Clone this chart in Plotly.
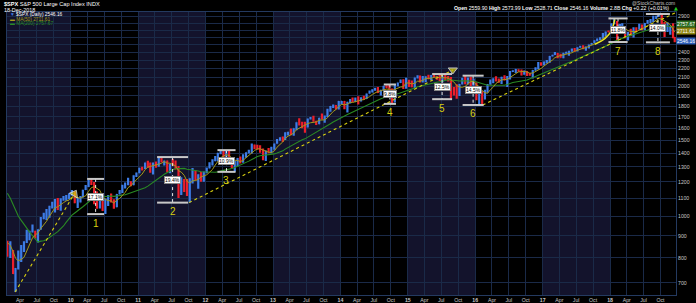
import numpy as np
import pandas as pd
import plotly.graph_objects as go

# ---------------- data (half-month bars, 2009 Jan(2nd half) .. 2018 Dec) ----------------
first_open = 850
close = [
 826, 827, 735, 756, 798, 852, 873, 883, 919, 924, 919, 932, 987, 1005, 1021, 1052, 1057, 1092, 1036, 1093, 1096, 1107, 1115,
 1136, 1074, 1075, 1104, 1150, 1169, 1211, 1187, 1136, 1089, 1115, 1031, 1096, 1102, 1079, 1049, 1125, 1141, 1176, 1183, 1199, 1181, 1242, 1258,
 1293, 1286, 1332, 1327, 1281, 1326, 1320, 1364, 1338, 1345, 1266, 1321, 1316, 1292, 1178, 1219, 1209, 1131, 1225, 1253, 1229, 1247, 1212, 1258,
 1289, 1312, 1343, 1366, 1402, 1408, 1370, 1398, 1330, 1310, 1330, 1362, 1357, 1379, 1405, 1407, 1465, 1441, 1441, 1412, 1353, 1416, 1413, 1426,
 1473, 1498, 1520, 1515, 1560, 1569, 1552, 1598, 1651, 1631, 1626, 1606, 1682, 1686, 1658, 1633, 1688, 1682, 1698, 1757, 1798, 1806, 1775, 1848,
 1848, 1783, 1838, 1859, 1841, 1872, 1843, 1884, 1871, 1924, 1937, 1960, 1973, 1931, 1955, 2003, 1985, 1972, 1862, 2018, 2040, 2068, 1990, 2059,
 2019, 1995, 2097, 2105, 2053, 2068, 2107, 2086, 2123, 2107, 2084, 2063, 2108, 2104, 2092, 1972, 1953, 1920, 2023, 2079, 2023, 2080, 2043, 2044,
 1880, 1940, 1864, 1932, 2016, 2060, 2082, 2065, 2047, 2097, 2072, 2099, 2162, 2174, 2190, 2171, 2126, 2168, 2133, 2126, 2180, 2199, 2253, 2239,
 2275, 2279, 2349, 2364, 2385, 2363, 2329, 2384, 2402, 2412, 2433, 2423, 2459, 2470, 2465, 2472, 2500, 2519, 2553, 2575, 2586, 2648, 2675, 2674,
 2786, 2824, 2699, 2714, 2748, 2641, 2657, 2648, 2711, 2705, 2780, 2718, 2798, 2816, 2818, 2902, 2905, 2914, 2768, 2712, 2730, 2760, 2600, 2546,
]
high = [
 877, 875, 835, 758, 832, 857, 875, 930, 925, 956, 925, 933, 996, 1018, 1039, 1057, 1080, 1096, 1101, 1100, 1113, 1119, 1130,
 1150, 1140, 1104, 1113, 1151, 1181, 1213, 1220, 1200, 1141, 1118, 1131, 1099, 1120, 1129, 1095, 1126, 1150, 1182, 1196, 1227, 1205, 1244, 1263,
 1294, 1302, 1332, 1344, 1332, 1331, 1339, 1366, 1371, 1346, 1346, 1323, 1356, 1345, 1307, 1230, 1219, 1220, 1225, 1293, 1277, 1250, 1267, 1269,
 1296, 1333, 1354, 1378, 1403, 1420, 1422, 1416, 1415, 1335, 1343, 1364, 1375, 1391, 1407, 1426, 1474, 1465, 1464, 1460, 1434, 1420, 1438, 1448,
 1474, 1510, 1524, 1530, 1564, 1570, 1597, 1598, 1651, 1687, 1655, 1654, 1684, 1698, 1710, 1664, 1690, 1730, 1711, 1775, 1799, 1814, 1809, 1849,
 1850, 1850, 1841, 1868, 1883, 1884, 1897, 1885, 1902, 1924, 1955, 1968, 1985, 1991, 1964, 2005, 2011, 2019, 1977, 2019, 2042, 2075, 2076, 2094,
 2072, 2064, 2097, 2120, 2117, 2114, 2111, 2126, 2124, 2135, 2109, 2127, 2111, 2132, 2112, 2102, 1993, 2021, 2024, 2094, 2116, 2097, 2104, 2081,
 2038, 1950, 1947, 1962, 2024, 2073, 2087, 2111, 2084, 2104, 2120, 2113, 2169, 2178, 2193, 2187, 2187, 2175, 2169, 2148, 2182, 2214, 2278, 2273,
 2283, 2301, 2352, 2368, 2401, 2390, 2379, 2392, 2405, 2417, 2446, 2453, 2463, 2484, 2490, 2472, 2500, 2520, 2557, 2582, 2598, 2657, 2680, 2695,
 2800, 2873, 2835, 2789, 2801, 2752, 2675, 2718, 2742, 2742, 2791, 2774, 2804, 2848, 2863, 2916, 2916, 2941, 2939, 2817, 2815, 2761, 2800, 2601,
]
low = [
 805, 800, 734, 667, 752, 783, 826, 866, 879, 916, 888, 869, 930, 983, 980, 992, 1041, 1020, 1033, 1029, 1085, 1085, 1095,
 1115, 1071, 1045, 1075, 1105, 1150, 1169, 1181, 1066, 1040, 1042, 1028, 1011, 1056, 1076, 1040, 1049, 1122, 1131, 1159, 1180, 1173, 1180, 1233,
 1257, 1276, 1287, 1294, 1261, 1249, 1295, 1302, 1331, 1311, 1262, 1258, 1307, 1283, 1101, 1120, 1137, 1114, 1075, 1191, 1209, 1158, 1202, 1202,
 1258, 1289, 1310, 1340, 1340, 1391, 1357, 1358, 1324, 1292, 1267, 1306, 1325, 1329, 1366, 1397, 1397, 1430, 1425, 1403, 1348, 1343, 1398, 1398,
 1426, 1472, 1495, 1485, 1501, 1538, 1539, 1536, 1582, 1622, 1598, 1560, 1604, 1676, 1655, 1627, 1633, 1675, 1646, 1700, 1746, 1780, 1768, 1768,
 1815, 1770, 1738, 1825, 1839, 1839, 1814, 1859, 1859, 1868, 1921, 1934, 1952, 1930, 1905, 1953, 1978, 1964, 1821, 1835, 2001, 2034, 1972, 1973,
 1992, 1990, 1981, 2086, 2040, 2040, 2044, 2077, 2067, 2099, 2072, 2056, 2044, 2063, 2052, 1867, 1903, 1872, 1899, 2018, 2022, 2019, 1993, 2005,
 1857, 1812, 1810, 1891, 1937, 2022, 2033, 2053, 2039, 2025, 2064, 1992, 2074, 2157, 2148, 2160, 2119, 2139, 2114, 2115, 2084, 2172, 2187, 2233,
 2245, 2258, 2268, 2345, 2362, 2322, 2328, 2322, 2378, 2353, 2405, 2405, 2407, 2456, 2437, 2417, 2446, 2488, 2520, 2544, 2558, 2578, 2605, 2667,
 2683, 2791, 2533, 2701, 2675, 2586, 2553, 2613, 2594, 2676, 2707, 2698, 2698, 2791, 2802, 2833, 2864, 2903, 2710, 2603, 2671, 2632, 2583, 2529,
]
# closes before the chart window (2008 Feb .. 2009 Jan 1st half), used only to warm up the moving averages
pre_close = [1349, 1331, 1288, 1323, 1328, 1386, 1423, 1400, 1360, 1280, 1215, 1267, 1298, 1283, 1252, 1166,
             908, 969, 912, 896, 869, 903, 850]

# corrections marked on the chart
corr_num = ["1", "2", "3", "4", "5", "6", "7", "8"]
corr_center = ["2010-05-16", "2011-07-07", "2012-04-24", "2014-09-26", "2015-07-06", "2015-12-21", "2018-02-13", "2018-09-17"]
corr_top = [1219.8, 1370.6, 1422.4, 2019.3, 2134.7, 2116.5, 2872.9, 2940.9]
corr_bottom = [1010.9, 1074.8, 1266.7, 1820.7, 1867.0, 1810.1, 2532.7, 2528.7]
corr_pct = ["17.1%", "19.4%", "10.9%", "9.8%", "12.5%", "14.5%", "11.8%", "14.0%"]
corr_halfwidth_days = [46, 84, 49, 33, 54, 57, 52, 65]

# dotted trend lines (start = swing low, end = arrow head)
trend_x0 = ["2009-03-06", "2011-10-04", "2016-02-11"]
trend_y0 = [666.8, 1074.8, 1810.1]
trend_x1 = ["2010-01-21", "2015-09-02", "2018-12-31"]
trend_y1 = [1127, 2182, 2975]

# hand-drawn parabolic curve into the Jan-2018 top
curve_x = ["2017-10-10", "2017-12-05", "2018-01-08", "2018-01-26"]
curve_y = [2500, 2580, 2690, 2860]

y_ticks = list(range(700, 3000, 100))
y_hidden = [2500, 2600, 2700, 2800]   # covered by the last-value tags
x_tick_dates = [f"{y}-{m:02d}-01" for y in range(2009, 2019) for m in (1, 4, 7, 10) if not (y == 2009 and m == 1)]
month_names = {4: "Apr", 7: "Jul", 10: "Oct"}

last_vals = [2757.67, 2711.61, 2546.16]

# ---------------- build ----------------
bar_dates = []
for y in range(2009, 2019):
    for m in range(1, 13):
        for d in (8, 23):
            if y == 2009 and m == 1 and d == 8:
                continue
            bar_dates.append(f"{y}-{m:02d}-{d:02d}")
bar_dates[-1] = "2018-12-17"

opens = [first_open] + close[:-1]
highs = [max(h, o, c) for h, o, c in zip(high, opens, close)]
lows = [min(l, o, c) for l, o, c in zip(low, opens, close)]

all_close = pd.Series(pre_close + close)
ma50 = all_close.rolling(5).mean().iloc[len(pre_close):].tolist()
ma200 = all_close.rolling(19).mean().iloc[len(pre_close):].tolist()

UP = "#3d7ce6"
DOWN = "#ec1f2b"
MA50C = "#a49a1a"
MA200C = "#2a8a24"
YEL = "#d8d010"
GRID = "#1a2a48"
BAND = "#13132c"

fig = go.Figure()

fig.add_trace(go.Scatter(x=bar_dates, y=ma200, mode="lines", line=dict(color=MA200C, width=1.1), hoverinfo="skip"))
fig.add_trace(go.Scatter(x=bar_dates, y=ma50, mode="lines", line=dict(color=MA50C, width=1.0), hoverinfo="skip"))

fig.add_trace(go.Ohlc(
    x=bar_dates, open=opens, high=highs, low=lows, close=close,
    increasing=dict(line=dict(color=UP, width=2.2)),
    decreasing=dict(line=dict(color=DOWN, width=2.2)),
    tickwidth=0.1, hoverinfo="skip"))

# trend lines
for x0, y0, x1, y1 in zip(trend_x0, trend_y0, trend_x1, trend_y1):
    fig.add_trace(go.Scatter(x=[x0, x1], y=[y0, y1], mode="lines",
                             line=dict(color=YEL, width=1.1, dash="dot"), hoverinfo="skip", cliponaxis=False))
fig.add_trace(go.Scatter(x=trend_x1, y=trend_y1, mode="markers", cliponaxis=False,
                         marker=dict(symbol=["triangle-up", "triangle-down", "triangle-down"], size=[8, 8, 8],
                                     angle=[30, 0, 0], color=YEL), hoverinfo="skip"))
fig.add_trace(go.Scatter(x=curve_x, y=curve_y, mode="lines", line=dict(color="#f4f020", width=1.4, shape="spline"),
                         hoverinfo="skip"))

# correction markers
for c, t, b, hw in zip(corr_center, corr_top, corr_bottom, corr_halfwidth_days):
    cd = pd.Timestamp(c)
    l = (cd - pd.Timedelta(days=hw)).strftime("%Y-%m-%d")
    r = (cd + pd.Timedelta(days=hw)).strftime("%Y-%m-%d")
    fig.add_trace(go.Scatter(x=[c, c], y=[t, b], mode="lines", line=dict(color="#e8e8e8", width=1, dash="dot"), hoverinfo="skip"))
    fig.add_trace(go.Scatter(x=[l, r, None, l, r], y=[t, t, None, b, b], mode="lines",
                             line=dict(color="#c8c8c8", width=2), hoverinfo="skip"))

F = "Liberation Sans"
annotations = []
for n, c, t, b, p in zip(corr_num, corr_center, corr_top, corr_bottom, corr_pct):
    annotations.append(dict(x=c, y=(np.log10(t) + np.log10(b)) / 2, xref="x", yref="y", text=p, showarrow=False,
                            font=dict(size=5, color="black", family=F), bgcolor="white",
                            bordercolor="#888888", borderwidth=1, borderpad=0))
    annotations.append(dict(x=c, y=np.log10(b), yshift=-9, xref="x", yref="y", text=n, showarrow=False,
                            font=dict(size=10, color=YEL, family=F)))

# year bands
shapes = []
for y in range(2009, 2019, 2):
    shapes.append(dict(type="rect", xref="x", yref="paper", x0=f"{y}-01-01", x1=f"{y+1}-01-01", y0=0, y1=1,
                       fillcolor=BAND, line=dict(width=0), layer="below"))

PL, PR, PT, PB = 7, 676, 12, 295
def px(x):
    return (x - PL) / (PR - PL)
def py(y):
    return (PB - y) / (PB - PT)

annotations += [
    dict(x=px(2), y=py(4), xref="paper", yref="paper", xanchor="left", yanchor="middle", showarrow=False,
         text="<b>$SPX</b> S&P 500 Large Cap Index INDX", font=dict(size=5.6, color="white", family=F)),
    dict(x=px(2), y=py(10), xref="paper", yref="paper", xanchor="left", yanchor="middle", showarrow=False,
         text="18-Dec-2018", font=dict(size=5.4, color="white", family=F)),
    dict(x=px(671), y=py(8), xref="paper", yref="paper", xanchor="right", yanchor="middle", showarrow=False,
         text="<b>Open</b> 2559.90 <b>High</b> 2573.99 <b>Low</b> 2528.71 <b>Close</b> 2546.16 <b>Volume</b> 2.8B <b>Chg</b> +0.22 (+0.01%)",
         font=dict(size=5.2, color="white", family=F)),
    dict(x=px(672), y=py(7.5), xref="paper", yref="paper", xanchor="left", yanchor="middle", showarrow=False,
         text="▲", font=dict(size=5, color="#22cc22", family="DejaVu Sans")),
    dict(x=px(677), y=py(3), xref="paper", yref="paper", xanchor="right", yanchor="middle", showarrow=False,
         text="@StockCharts.com", font=dict(size=5, color="#c0c0c0", family=F)),
    dict(x=px(8), y=py(14.8), xref="paper", yref="paper", xanchor="left", yanchor="middle", showarrow=False,
         text="<span style='color:#3d7ce6'>▼</span> $SPX (Daily) 2546.16", font=dict(size=4.8, color="white", family=F)),
    dict(x=px(8), y=py(19.3), xref="paper", yref="paper", xanchor="left", yanchor="middle", showarrow=False,
         text="▬ MA(50) 2711.61", font=dict(size=4.8, color=MA50C, family=F)),
    dict(x=px(8), y=py(23.8), xref="paper", yref="paper", xanchor="left", yanchor="middle", showarrow=False,
         text="▬ MA(200) 2757.67", font=dict(size=4.8, color=MA200C, family=F)),
]
# last-value tags on the price axis
for val, bg, sh in zip(last_vals, ("#2c6e22", "#8f8612", "#2e5fb8"), (2.5, -1.5, 0)):
    annotations.append(dict(x=1, y=np.log10(val), yshift=sh, xref="paper", yref="y", xanchor="left", yanchor="middle",
                            showarrow=False, text=f"{val:.2f}", bgcolor=bg, borderpad=0,
                            font=dict(size=5, color="white", family=F)))

tick_text = []
for d in x_tick_dates:
    yy, mm = int(d[:4]), int(d[5:7])
    tick_text.append(f"<b>{str(yy)[2:]}</b>" if mm == 1 else month_names[mm])

fig.update_layout(
    width=696, height=303,
    margin=dict(l=PL, r=696 - PR, t=PT, b=303 - PB),
    paper_bgcolor="black", plot_bgcolor="black",
    showlegend=False,
    shapes=shapes, annotations=annotations,
    xaxis=dict(type="date", range=["2009-01-21", "2018-12-24"], tickvals=x_tick_dates, ticktext=tick_text,
               tickfont=dict(size=5.2, color="#c8c8c8", family=F), showgrid=True, gridcolor=GRID, gridwidth=1,
               showline=True, linecolor="#243a60", linewidth=1, mirror=True, ticks="", ticklen=0, zeroline=False,
               automargin=False, rangeslider=dict(visible=False), fixedrange=True),
    yaxis=dict(type="log", range=[np.log10(656.5), np.log10(2973)], side="right", tickvals=y_ticks,
               ticktext=["" if v in y_hidden else str(v) for v in y_ticks],
               tickfont=dict(size=5.2, color="#c8c8c8", family=F), automargin=False,
               showgrid=True, gridcolor=GRID, gridwidth=1, showline=True, linecolor="#243a60", linewidth=1,
               mirror=True, ticks="", ticklen=0, zeroline=False, fixedrange=True),
)

fig.write_html("out.html")
